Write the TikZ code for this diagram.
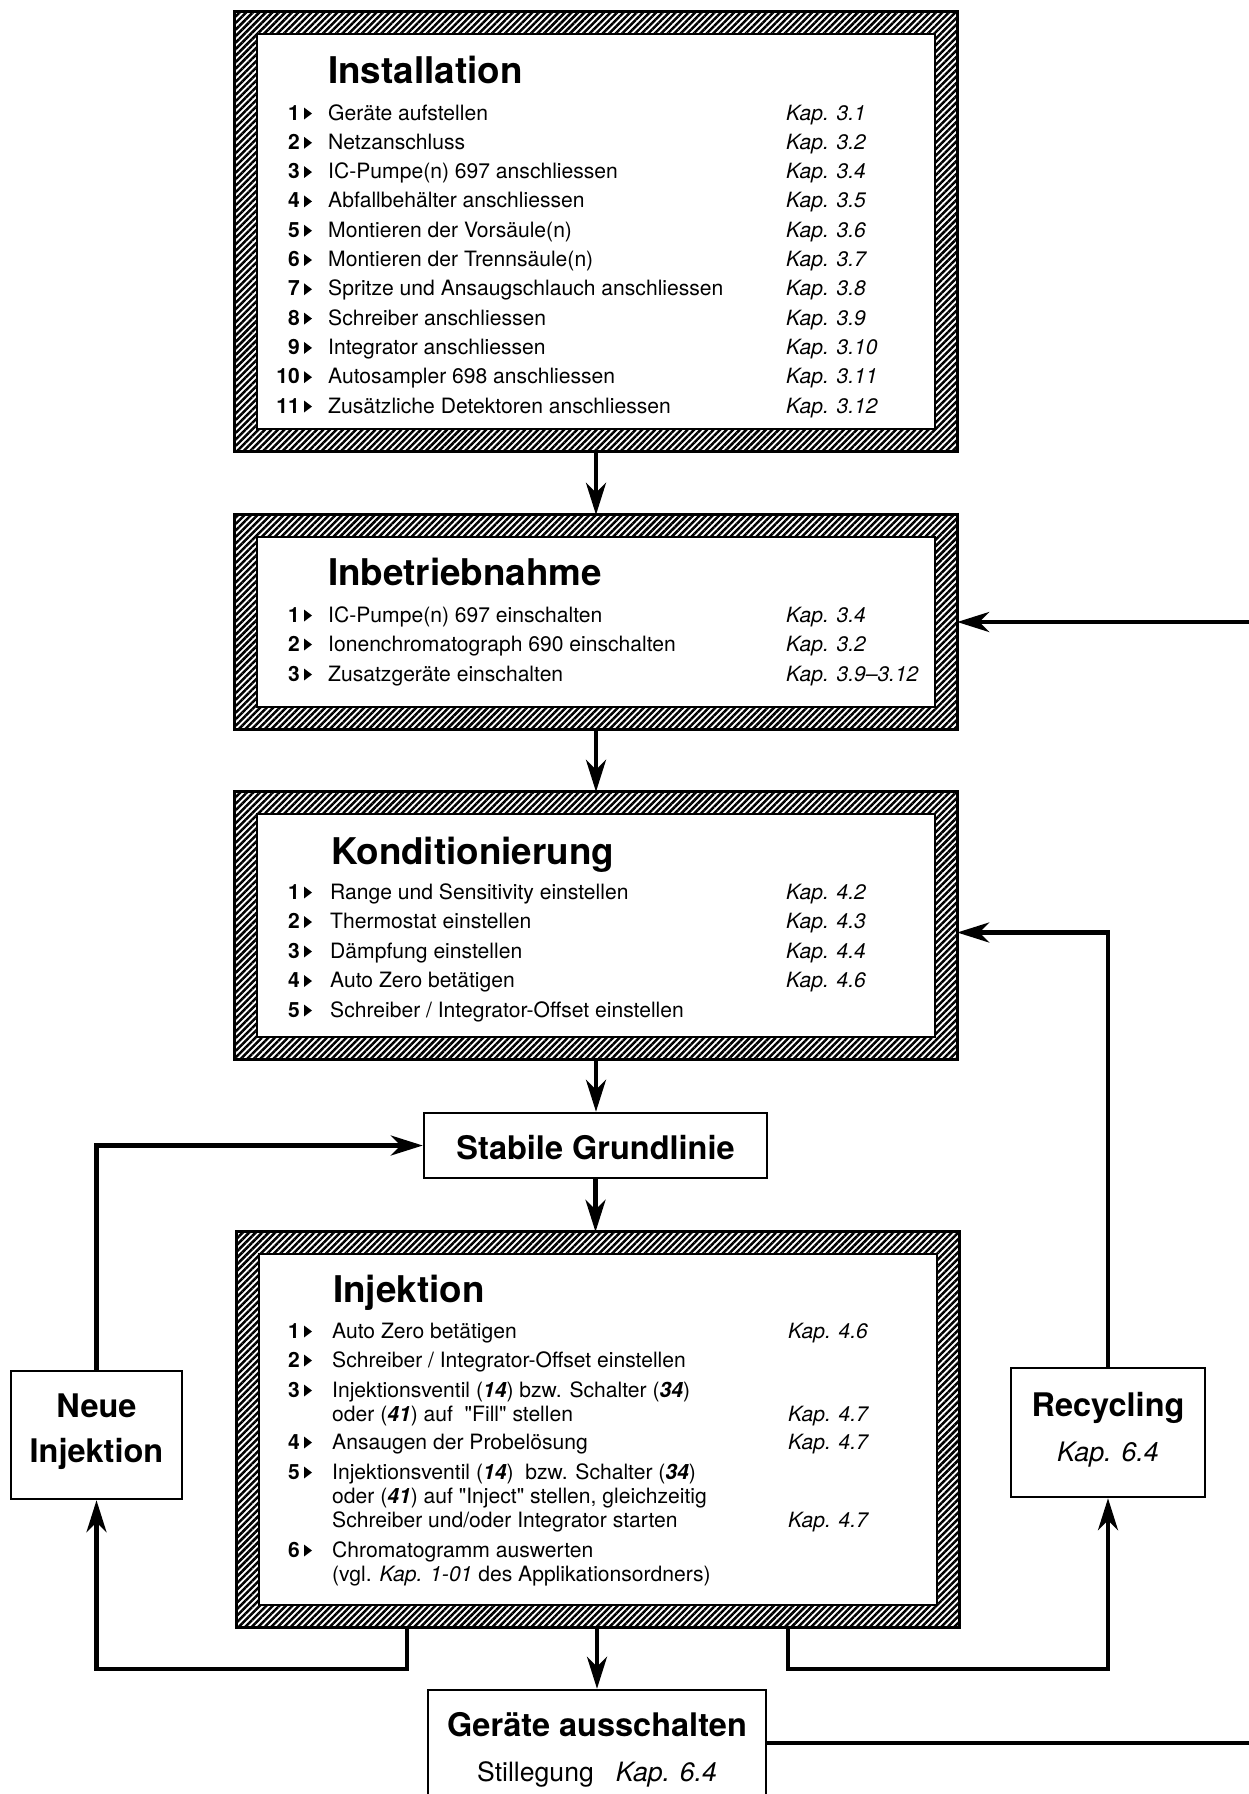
\documentclass[tikz,border=0pt]{standalone}
\usepackage{fontspec}
\setmainfont{TeX Gyre Heros}
\newfontfamily\plainqf{TeX Gyre Heros}
\usetikzlibrary{arrows.meta,patterns.meta}

\tikzset{
  numst/.style={anchor=base east, inner sep=0pt, font=\fontsize{21pt}{24pt}\selectfont\bfseries},
  txtst/.style={anchor=base west, inner sep=0pt, font=\fontsize{21.1pt}{24pt}\selectfont},
  kapst/.style={anchor=base west, inner sep=0pt, font=\fontsize{21pt}{24pt}\selectfont\itshape},
  titlest/.style={anchor=base west, inner sep=0pt, font=\fontsize{36.8pt}{40pt}\selectfont\bfseries},
  lblst/.style={anchor=base, inner sep=0pt, font=\fontsize{32.5pt}{36pt}\selectfont\bfseries},
  sublst/.style={anchor=base, inner sep=0pt, font=\fontsize{26.6pt}{30pt}\selectfont},
  bigbox/.style={rectangle, inner sep=0pt, draw=none},
  plainbox/.style={rectangle, inner sep=0pt, draw, line width=2.5pt, fill=white},
  arr/.style={line width=4.5pt, -{Stealth[length=32pt,width=20pt,inset=10pt]}},
  conn/.style={line width=4.5pt},
}

\def\txx{328}
\def\kpx{786}

\newcommand\rowitem[5]{%
  \node[numst] (#1n) at (300,#2) {#3};
  \fill[black] ([shift={(4pt,12.5pt)}]#1n.base east) -- ++(0,12) -- ++(8,-6) -- cycle;
  \node[txtst] (#1t) at (\txx,#2) {#4};
  \if\relax\detokenize{#5}\relax\else\node[kapst] (#1k) at (\kpx,#2) {#5};\fi
}
\newcommand\contitem[4]{%
  \node[txtst] (#1t) at (\txx,#2) {#3};
  \if\relax\detokenize{#4}\relax\else\node[kapst] (#1k) at (\kpx,#2) {#4};\fi
}
\newcommand\hatchframe[1]{%
  \fill[pattern={Lines[angle=45,distance=4.6pt,line width=2.5pt]}, even odd rule]
    (#1.south west) rectangle (#1.north east)
    ([shift={(22pt,22pt)}]#1.south west) rectangle ([shift={(-22pt,-22pt)}]#1.north east);
  \draw[line width=3pt] (#1.south west) rectangle (#1.north east);
  \draw[line width=2.5pt] ([shift={(22pt,22pt)}]#1.south west) rectangle ([shift={(-22pt,-22pt)}]#1.north east);
}
\newcommand\bi[1]{\textbf{\textit{#1}}}
\newcommand\sq{{\plainqf\char34}}

\begin{document}
\begin{tikzpicture}[x=1pt,y=-1pt]
\fill[white] (0,0) rectangle (1249,1794);
\useasboundingbox (0,0) rectangle (1249,1794);

% ---------- main boxes ----------
\node[bigbox, minimum width=722pt, minimum height=439pt] (inst) at (596,231.5) {};
\node[bigbox, minimum width=722pt, minimum height=214pt] (inb) at (596,622) {};
\node[bigbox, minimum width=722pt, minimum height=267pt] (kond) at (596,925.5) {};
\node[bigbox, minimum width=722pt, minimum height=395pt] (inj) at (598,1429.5) {};
\hatchframe{inst}
\hatchframe{inb}
\hatchframe{kond}
\hatchframe{inj}

\node[plainbox, minimum width=343pt, minimum height=65pt] (stab) at (595.5,1145.5) {};
\node[plainbox, minimum width=171pt, minimum height=128pt] (neue) at (96.5,1435) {};
\node[plainbox, minimum width=194pt, minimum height=129pt] (rec) at (1108,1432.5) {};
\node[plainbox, minimum width=338pt, minimum height=120pt] (ger) at (597,1750) {};

% ---------- Installation ----------
\node[titlest] (instT) at (328,83) {Installation};
\def\txx{328}\def\kpx{786}
\rowitem{ia}{120}{1}{Geräte aufstellen}{Kap. 3.1}
\rowitem{ib}{149.3}{2}{Netzanschluss}{Kap. 3.2}
\rowitem{ic}{178.6}{3}{IC-Pumpe(n) 697 anschliessen}{Kap. 3.4}
\rowitem{id}{207.9}{4}{Abfallbehälter anschliessen}{Kap. 3.5}
\rowitem{ie}{237.2}{5}{Montieren der Vorsäule(n)}{Kap. 3.6}
\rowitem{if}{266.5}{6}{Montieren der Trennsäule(n)}{Kap. 3.7}
\rowitem{ig}{295.8}{7}{Spritze und Ansaugschlauch anschliessen}{Kap. 3.8}
\rowitem{ih}{325.1}{8}{Schreiber anschliessen}{Kap. 3.9}
\rowitem{ii}{354.4}{9}{Integrator anschliessen}{Kap. 3.10}
\rowitem{ij}{383.7}{10}{Autosampler 698 anschliessen}{Kap. 3.11}
\rowitem{ik}{413}{11}{Zusätzliche Detektoren anschliessen}{Kap. 3.12}

% ---------- Inbetriebnahme ----------
\node[titlest] (inbT) at (328,585) {Inbetriebnahme};
\rowitem{ba}{622}{1}{IC-Pumpe(n) 697 einschalten}{Kap. 3.4}
\rowitem{bb}{651}{2}{Ionenchromatograph 690 einschalten}{Kap. 3.2}
\rowitem{bc}{681}{3}{Zusatzgeräte einschalten}{Kap. 3.9–3.12}

% ---------- Konditionierung ----------
\node[titlest] (kondT) at (331,864) {Konditionierung};
\def\txx{330}
\rowitem{ka}{899}{1}{Range und Sensitivity einstellen}{Kap. 4.2}
\rowitem{kb}{928.5}{2}{Thermostat einstellen}{Kap. 4.3}
\rowitem{kc}{958}{3}{Dämpfung einstellen}{Kap. 4.4}
\rowitem{kd}{987.5}{4}{Auto Zero betätigen}{Kap. 4.6}
\rowitem{ke}{1017}{5}{Schreiber / Integrator-Offset einstellen}{}

% ---------- Injektion ----------
\node[titlest] (injT) at (333,1302) {Injektion};
\def\txx{332}\def\kpx{788}
\rowitem{ja}{1338}{1}{Auto Zero betätigen}{Kap. 4.6}
\rowitem{jb}{1367}{2}{Schreiber / Integrator-Offset einstellen}{}
\rowitem{jc}{1397}{3}{Injektionsventil (\bi{14}) bzw. Schalter (\bi{34})}{}
\contitem{jc2}{1421}{oder (\bi{41}) auf\ \ \sq Fill\sq\ stellen}{Kap. 4.7}
\rowitem{jd}{1449}{4}{Ansaugen der Probelösung}{Kap. 4.7}
\rowitem{je}{1479}{5}{Injektionsventil (\bi{14})\ \ bzw. Schalter (\bi{34})}{}
\contitem{je2}{1503}{oder (\bi{41}) auf \sq Inject\sq\ stellen, gleichzeitig}{}
\contitem{je3}{1527}{Schreiber und/oder Integrator starten}{Kap. 4.7}
\rowitem{jf}{1557}{6}{Chromatogramm auswerten}{}
\contitem{jf2}{1581}{(vgl. \textit{Kap. 1-01} des Applikationsordners)}{}

% ---------- small boxes text ----------
\node[lblst] (stabT) at (595.5,1159) {Stabile Grundlinie};
\node[lblst] (neueT1) at (96.5,1417) {Neue};
\node[lblst] (neueT2) at (96.5,1462) {Injektion};
\node[lblst] (recT1) at (1108,1416) {Recycling};
\node[sublst, font=\fontsize{26.8pt}{30pt}\selectfont\itshape] (recT2) at (1108,1461) {Kap. 6.4};
\node[lblst] (gerT1) at (597,1736) {Geräte ausschalten};
\node[sublst] (gerT2) at (597,1781) {Stillegung\ \ \ \textit{Kap. 6.4}};

% ---------- connectors ----------
\draw[arr] (inst.south) -- (inb.north);
\draw[arr] (inb.south) -- (kond.north);
\draw[arr] (kond.south) -- (kond.south |- stab.north);
\draw[arr] (stab.south) -- (stab.south |- inj.north);
\draw[arr] (ger.north |- inj.south) -- (ger.north);

\draw[arr] (neue.north) |- (stab.west);
\draw[arr] ([xshift=170pt]inj.south west) -- ++(0,42) -| (neue.south);
\draw[arr] ([xshift=-171pt]inj.south east) -- ++(0,42) -| (rec.south);
\draw[arr] (rec.north) |- ([yshift=-7pt]kond.east);

\coordinate (rin) at (1262,622);
\draw[arr] (rin) -- (inb.east);
\coordinate (rout) at (1262,1743);
\draw[conn] (ger.east |- rout) -- (rout);
\end{tikzpicture}
\end{document}
